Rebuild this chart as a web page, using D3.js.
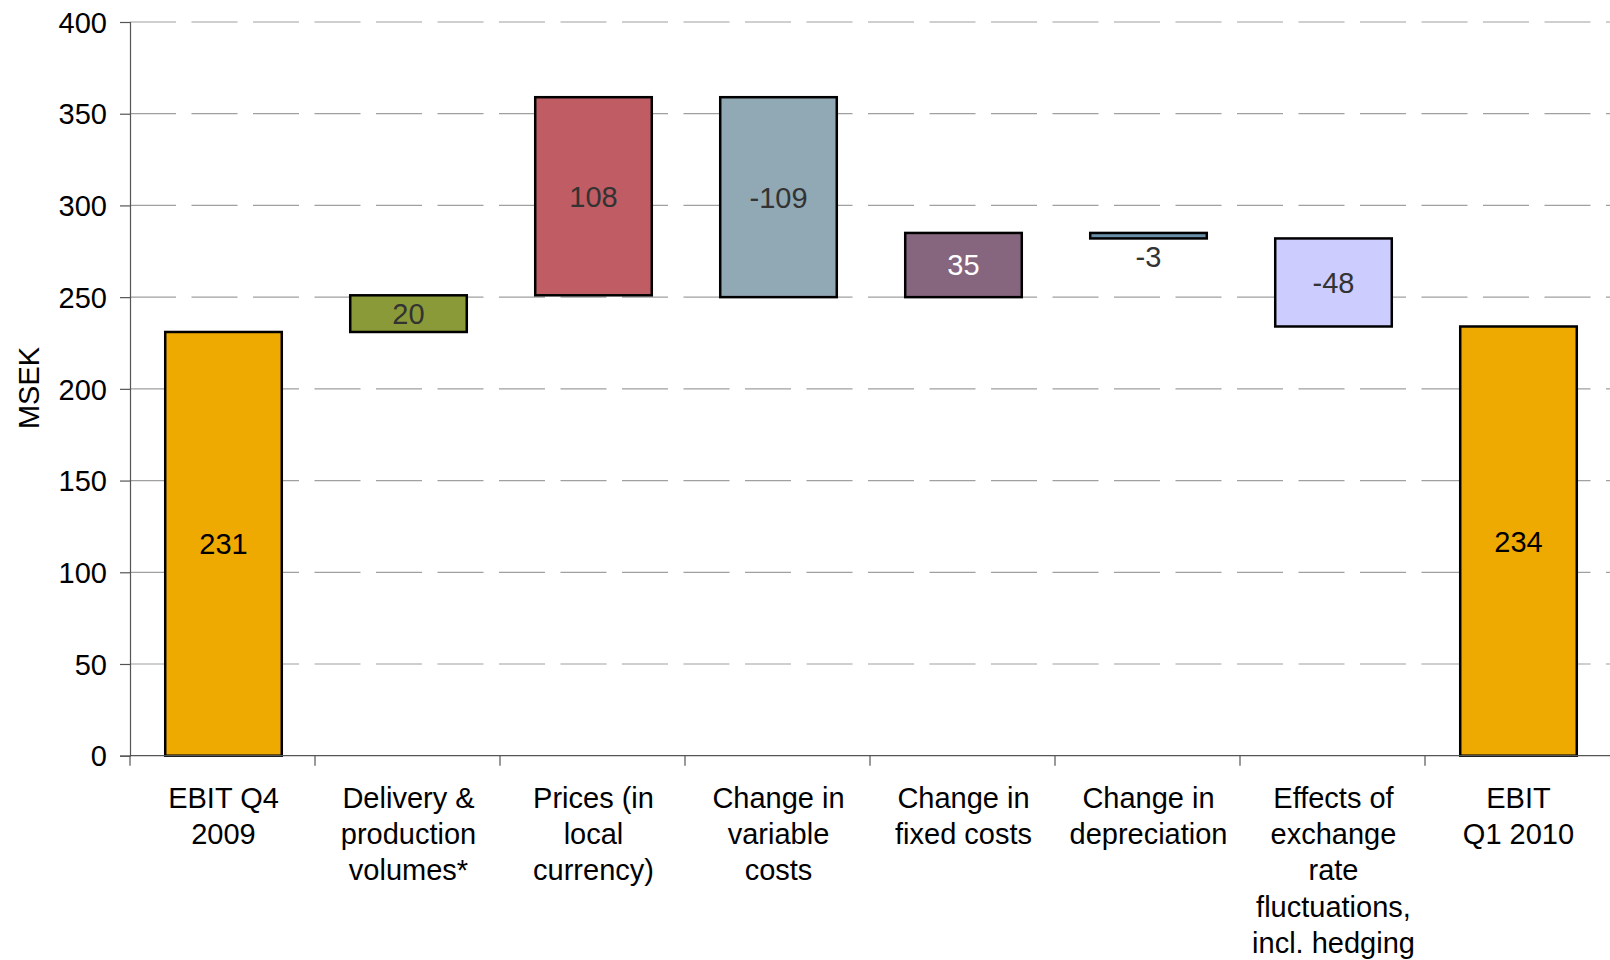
<!DOCTYPE html>
<html><head><meta charset="utf-8">
<script src="https://cdn.jsdelivr.net/npm/d3@7"></script>
<style>body{margin:0;background:#fff}svg{display:block;font-family:Arial,"Liberation Sans",sans-serif}</style>
</head><body><svg id="c" width="1610" height="960"></svg>
<script>
const categories = ["EBIT Q4 2009","Delivery & production volumes*","Prices (in local currency)","Change in variable costs","Change in fixed costs","Change in depreciation","Effects of exchange rate fluctuations, incl. hedging","EBIT Q1 2010"];
const categoryLines = [["EBIT Q4","2009"],["Delivery &","production","volumes*"],["Prices (in","local","currency)"],["Change in","variable","costs"],["Change in","fixed costs"],["Change in","depreciation"],["Effects of","exchange","rate","fluctuations,","incl. hedging"],["EBIT","Q1 2010"]];
const values = [231, 20, 108, -109, 35, -3, -48, 234];
const isTotal = [true, false, false, false, false, false, false, true];
const colors = ["#EEAA00","#8A9A38","#C05C64","#91A8B5","#86657F","#6A8FA8","#CCCCFF","#EEAA00"];
const labelColors = ["#000","#333","#333","#333","#fff","#333","#333","#000"];
const yTicks = [0,50,100,150,200,250,300,350,400];
const yLabel = "MSEK";

const FS = 29;
const svg = d3.select("#c");
const x = d3.scaleBand().domain(categories).range([130,1610]).padding(0);
const y = d3.scaleLinear().domain([0,400]).range([755.7,22]);

// compute waterfall
let run = 0;
const bars = categories.map((c,i)=>{
  let lo, hi;
  if (isTotal[i]) { lo = 0; hi = values[i]; run = values[i]; }
  else { const s = run; run = run + values[i]; lo = Math.min(s,run); hi = Math.max(s,run); }
  return {c, i, lo, hi, v: values[i]};
});

// gridlines
svg.append("g").selectAll("line").data(yTicks.filter(t=>t>0)).join("line")
  .attr("x1",130).attr("x2",1610).attr("y1",d=>y(d)).attr("y2",d=>y(d))
  .attr("stroke","#a0a0a0").attr("stroke-width",1.2).attr("stroke-dasharray","46 15.5");

// bars
const bw = x.bandwidth()*0.63;
const cx = d => x(d) + x.bandwidth()/2 + 1;
svg.append("g").selectAll("rect").data(bars).join("rect")
  .attr("x",d=>cx(d.c)-bw/2).attr("width",bw)
  .attr("y",d=>y(d.hi)).attr("height",d=>y(d.lo)-y(d.hi))
  .attr("fill",(d)=>colors[d.i]).attr("stroke","#000").attr("stroke-width",2.5);

// value labels
svg.append("g").selectAll("text").data(bars).join("text")
  .attr("x",d=>cx(d.c))
  .attr("y",d=>{ const h=y(d.lo)-y(d.hi); return h<20 ? y(d.lo)+18 : (y(d.lo)+y(d.hi))/2; })
  .attr("dy","0.36em").attr("text-anchor","middle").attr("font-size",FS)
  .attr("fill",d=>labelColors[d.i]).text(d=>d.v);

// y axis
const yAxis = svg.append("g").attr("transform","translate(130,0)")
  .call(d3.axisLeft(y).tickValues(yTicks).tickSize(10).tickPadding(13));
yAxis.select(".domain").attr("stroke","#555").attr("stroke-width",1.2);
yAxis.selectAll(".tick line").attr("stroke","#555").attr("stroke-width",1.2);
yAxis.selectAll(".tick text").attr("font-size",FS).attr("fill","#000").attr("font-family","Arial, 'Liberation Sans', sans-serif").attr("dy","0.35em");

// x axis
svg.append("line").attr("x1",130).attr("x2",1610).attr("y1",y(0)).attr("y2",y(0)).attr("stroke","#555").attr("stroke-width",1.2);
svg.append("g").selectAll("line").data(categories).join("line")
  .attr("x1",d=>x(d)).attr("x2",d=>x(d)).attr("y1",y(0)).attr("y2",y(0)+10)
  .attr("stroke","#555").attr("stroke-width",1.2);

// category labels
const cl = svg.append("g").selectAll("text").data(categories).join("text")
  .attr("text-anchor","middle").attr("font-size",FS).attr("fill","#000");
cl.each(function(d,i){
  const t = d3.select(this);
  categoryLines[i].forEach((ln,k)=>{
    t.append("tspan").attr("x",cx(d)).attr("y",808+k*36.2).text(ln);
  });
});

// y label
svg.append("text").attr("transform","translate(38.5,388) rotate(-90)")
  .attr("text-anchor","middle").attr("font-size",FS).attr("fill","#000").text(yLabel);
</script></body></html>
